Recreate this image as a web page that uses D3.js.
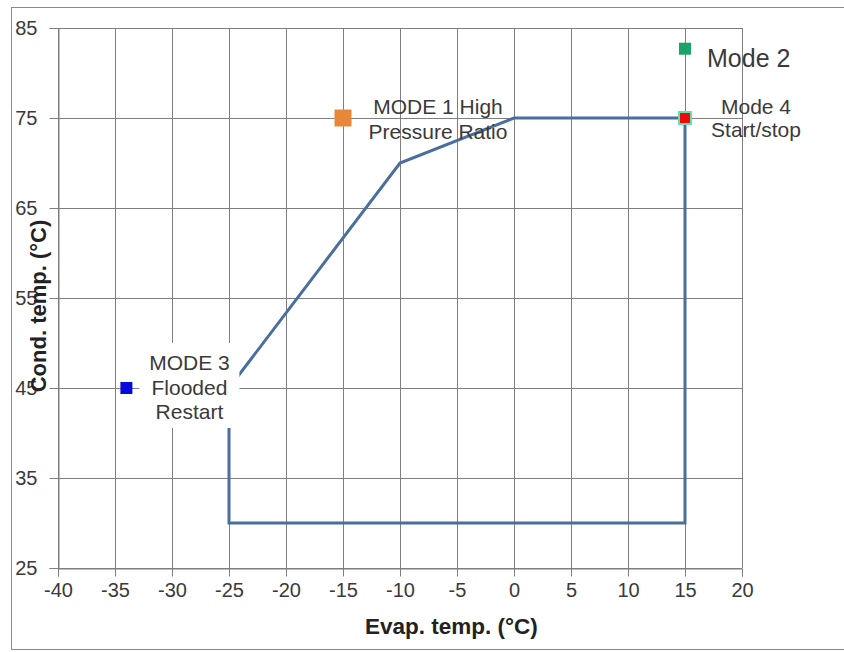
<!DOCTYPE html>
<html>
<head>
<meta charset="utf-8">
<script src="https://cdn.jsdelivr.net/npm/d3@7"></script>
<style>
  body { margin: 0; background: #fff; }
  svg { display: block; font-family: "Liberation Sans", Arial, sans-serif; }
</style>
</head>
<body>
<svg width="844" height="652"></svg>
<script>
// operating envelope (evap temp, cond temp)
var envEvap = [-25, -10, 0, 15, 15, -25, -25];
var envCond = [45, 70, 75, 75, 30, 30, 45];

// test modes
var modeKeys = ["mode1", "mode2", "mode3", "mode4"];
var modeEvap = [-15, 15, -34, 15];
var modeCond = [75, 82.7, 45, 75];
var modeLabels = [
  ["MODE 1 High", "Pressure Ratio"],
  ["Mode 2"],
  ["MODE 3", "Flooded", "Restart"],
  ["Mode 4", "Start/stop"]
];

var xTicks = [-40, -35, -30, -25, -20, -15, -10, -5, 0, 5, 10, 15, 20];
var yTicks = [25, 35, 45, 55, 65, 75, 85];

// marker / label styling
var style = {
  mode1: { fill: "#e8873a", size: 17, dx: 95, dy: [-11, 14], anchor: "middle", font: 21 },
  mode2: { fill: "#1ca368", size: 12, dx: 22, dy: [10], anchor: "start", font: 25 },
  mode3: { fill: "#0a0ad8", size: 12, dx: 63, dy: [-25, 0, 24], anchor: "middle", font: 21, box: true },
  mode4: { fill: "#ee0a0a", size: 12, stroke: "#5fe3b0", dx: 71, dy: [-11, 12], anchor: "middle", font: 21 }
};

var svg = d3.select("svg"),
  margin = { top: 28, right: 102, bottom: 84, left: 58 },
  width = +svg.attr("width") - margin.left - margin.right,
  height = +svg.attr("height") - margin.top - margin.bottom;

var textColor = "#3a3a3a",
  gridColor = "#7f7f7f";

// outer frame
svg.append("rect")
  .attr("x", 11.5).attr("y", 7.5)
  .attr("width", 840).attr("height", 642)
  .attr("fill", "none")
  .attr("stroke", "#8a8a8a");

var g = svg.append("g")
  .attr("transform", "translate(" + margin.left + "," + margin.top + ")");

var x = d3.scaleLinear().domain([-40, 20]).range([0, width]);
var y = d3.scaleLinear().domain([25, 85]).range([height, 0]);

// gridlines
g.append("g")
  .selectAll("line")
  .data(xTicks)
  .enter().append("line")
  .attr("x1", function(d) { return Math.round(x(d)) + 0.5; })
  .attr("x2", function(d) { return Math.round(x(d)) + 0.5; })
  .attr("y1", 0).attr("y2", height)
  .attr("stroke", gridColor);

g.append("g")
  .selectAll("line")
  .data(yTicks)
  .enter().append("line")
  .attr("y1", function(d) { return Math.round(y(d)) + 0.5; })
  .attr("y2", function(d) { return Math.round(y(d)) + 0.5; })
  .attr("x1", 0).attr("x2", width)
  .attr("stroke", gridColor);

// axes (plain hyphen minus like the original)
var plain = function(d) { return String(d); };

var xAxis = g.append("g")
  .attr("transform", "translate(0," + (Math.round(height) + 0.5) + ")")
  .call(d3.axisBottom(x).tickValues(xTicks).tickFormat(plain).tickSize(8).tickPadding(6));

var yAxis = g.append("g")
  .attr("transform", "translate(0.5,0)")
  .call(d3.axisLeft(y).tickValues(yTicks).tickFormat(plain).tickSize(9).tickPadding(12));

[xAxis, yAxis].forEach(function(a) {
  a.select(".domain").attr("stroke", gridColor);
  a.selectAll(".tick line").attr("stroke", gridColor);
  a.selectAll(".tick text")
    .attr("fill", textColor)
    .style("font-size", "20px")
    .style("font-family", "'Liberation Sans', Arial, sans-serif");
});

// envelope
var envPts = envEvap.map(function(d, i) { return [d, envCond[i]]; });
g.append("path")
  .datum(envPts)
  .attr("fill", "none")
  .attr("stroke", "#4a6e9e")
  .attr("stroke-width", 3)
  .attr("stroke-linejoin", "miter")
  .attr("d", d3.line()
    .x(function(d) { return x(d[0]); })
    .y(function(d) { return y(d[1]); }));

// MODE 3 label background box
modeKeys.forEach(function(k, i) {
  var s = style[k];
  if (!s.box) return;
  var cx = x(modeEvap[i]) + s.dx, cy = y(modeCond[i]);
  g.append("rect")
    .attr("x", cx - 50).attr("y", cy - 45)
    .attr("width", 100).attr("height", 85)
    .attr("fill", "#fff");
});

// markers
modeKeys.forEach(function(k, i) {
  var s = style[k];
  g.append("rect")
    .attr("x", x(modeEvap[i]) - s.size / 2)
    .attr("y", y(modeCond[i]) - s.size / 2)
    .attr("width", s.size).attr("height", s.size)
    .attr("fill", s.fill)
    .attr("stroke", s.stroke || "none")
    .attr("stroke-width", 2);
});

// labels
modeKeys.forEach(function(k, i) {
  var s = style[k];
  var px = x(modeEvap[i]) + s.dx, py = y(modeCond[i]);
  modeLabels[i].forEach(function(line, j) {
    g.append("text")
      .attr("x", px)
      .attr("y", py + s.dy[j])
      .attr("dy", "0.35em")
      .attr("text-anchor", s.anchor)
      .attr("fill", textColor)
      .style("font-size", s.font + "px")
      .text(line);
  });
});

// axis titles
g.append("text")
  .attr("x", x(-5.5))
  .attr("y", height + 66)
  .attr("text-anchor", "middle")
  .attr("fill", "#222")
  .style("font-size", "22.5px")
  .style("font-weight", "bold")
  .text("Evap. temp. (\u00b0C)");

g.append("text")
  .attr("transform", "translate(" + (46 - margin.left) + "," + (306 - margin.top) + ") rotate(-90)")
  .attr("text-anchor", "middle")
  .attr("fill", "#222")
  .style("font-size", "22px")
  .style("font-weight", "bold")
  .text("Cond. temp. (\u00b0C)");
</script>
</body>
</html>
